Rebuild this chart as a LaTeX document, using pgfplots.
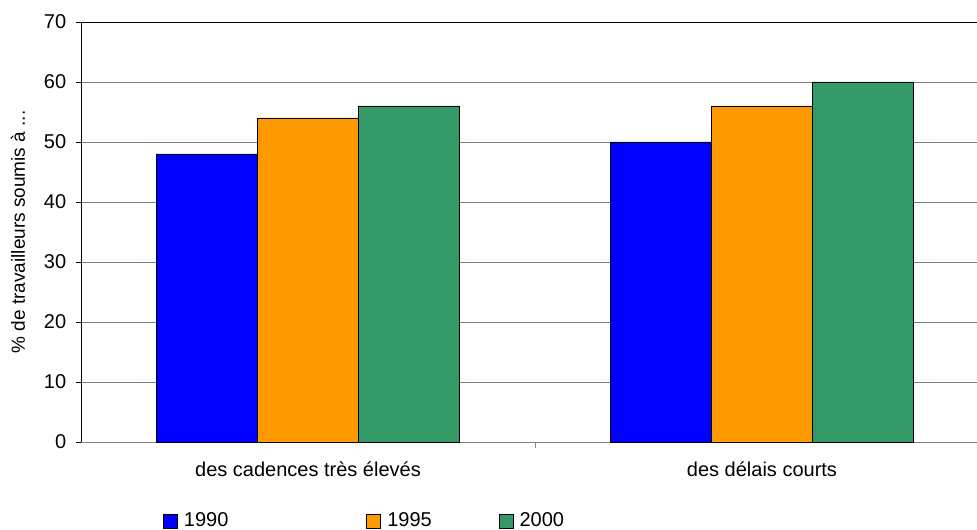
\documentclass[border=0pt]{standalone}
\usepackage{pgfplots}
\pgfplotsset{compat=1.18}
\usepackage{fontspec}
\setmainfont{Liberation Sans}
\definecolor{cA}{RGB}{0,0,255}
\definecolor{cB}{RGB}{255,153,0}
\definecolor{cC}{RGB}{51,153,102}
\definecolor{gridgray}{RGB}{128,128,128}
\begin{document}
\fontsize{20}{24}\selectfont
\begin{tikzpicture}
\begin{axis}[
  scale only axis, width=896pt, height=420pt,
  xmin=-0.5, xmax=1.4736, ymin=0, ymax=70,
  clip=false,
  ybar, bar width=0.2225,
  axis lines*=left,
  x axis line style={draw=gridgray, -},
  y axis line style={draw=black, -},
  ytick={0,10,...,70},
  ymajorgrids, grid style={gridgray, line width=0.8pt},
  y tick style={black, line width=0.6pt},
  major tick length=5pt, tick align=outside,
  xtick={0,1}, xticklabels={des cadences très élevés, des délais courts},
  x tick style={draw=none},
  xticklabel style={yshift=-8pt},
  yticklabel style={xshift=-3pt},
  /pgf/number format/assume math mode=true,
  ylabel={\% de travailleurs soumis à ...},
  ylabel style={at={(axis description cs:0,0.5)}, anchor=center, yshift=63pt, font=\fontsize{19}{22}\selectfont},
  legend columns=3,
  legend style={at={(axis description cs:0,0)}, anchor=west, xshift=82pt, yshift=-79pt,
    draw=none, fill=none, inner sep=0pt, nodes={inner sep=0pt},
    /tikz/every odd column/.append style={column sep=6pt}},
  legend image code/.code={\draw[#1, draw=black, line width=0.8pt] (0pt,-7pt) rectangle (14pt,7pt);},
]
\addplot[fill=cA, draw=black, line width=0.8pt, bar shift=-0.2225] coordinates {(0,48) (1,50)};
\addplot[fill=cB, draw=black, line width=0.8pt, bar shift=0] coordinates {(0,54) (1,56)};
\addplot[fill=cC, draw=black, line width=0.8pt, bar shift=0.2225] coordinates {(0,56) (1,60)};
\legend{1990\hspace*{138pt}, 1995\hspace*{67pt}, 2000}
\draw[black, line width=0.8pt] (axis cs:-0.5,70) -- (axis cs:1.4736,70);
\draw[gridgray, line width=0.8pt] (axis cs:0.5,0) -- ([yshift=-6pt]axis cs:0.5,0);
\coordinate (sw) at (rel axis cs:0,0);
\coordinate (ne) at (rel axis cs:1,1);
\end{axis}
\pgfresetboundingbox
\path ([xshift=-81pt,yshift=-88pt]sw) rectangle ([yshift=22pt]ne);
\end{tikzpicture}
\end{document}
